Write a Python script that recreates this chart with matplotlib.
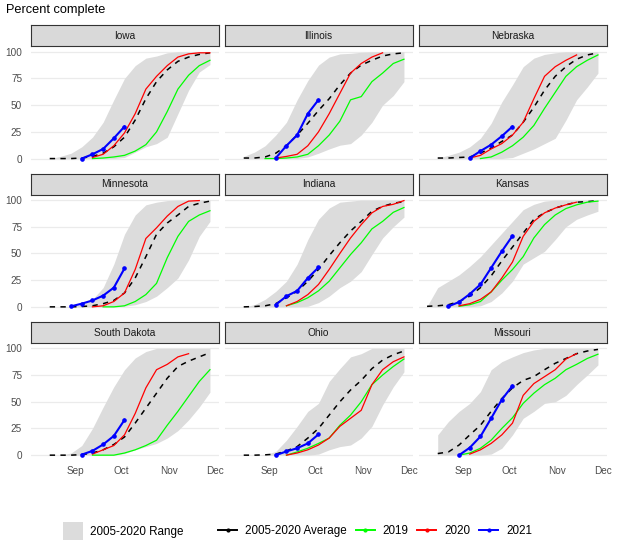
import matplotlib
matplotlib.use("Agg")
import matplotlib.pyplot as plt
import matplotlib.dates as mdates
from matplotlib.lines import Line2D
from matplotlib.patches import Patch
import pandas as pd

plt.rcParams["font.family"] = ["Liberation Sans", "DejaVu Sans"]

# weekly report dates (all years mapped onto the 2021 calendar)
weeks = ["2021-08-08", "2021-08-15", "2021-08-22", "2021-08-29", "2021-09-05",
         "2021-09-12", "2021-09-19", "2021-09-26", "2021-10-03", "2021-10-10",
         "2021-10-17", "2021-10-24", "2021-10-31", "2021-11-07", "2021-11-14",
         "2021-11-21", "2021-11-28"]

states = ["Iowa", "Illinois", "Nebraska",
          "Minnesota", "Indiana", "Kansas",
          "South Dakota", "Ohio", "Missouri"]

N = None

avg = {
    "Iowa":         [N, 0, 0, 0, 0.5, 2, 5, 11, 20, 36, 56, 72, 83, 91, 95, 97.5, 99],
    "Illinois":     [N, 0.5, 0.5, 1.5, 5, 12, 22, 33, 45, 56, 69, 80, 87.5, 92, 96, 98, 99],
    "Nebraska":     [N, 0.5, 0.5, 1, 1.5, 5, 10, 16, 22, 34, 48, 64, 77, 86, 93, 97, 99],
    "Minnesota":    [N, 0, 0, 0, 0.3, 1, 3, 6, 13, 27, 47, 68, 78.5, 86, 94, 97, 99],
    "Indiana":      [N, 0, 0.3, 1, 3, 8.5, 14.5, 24, 35, 48, 60, 71, 80, 89.5, 94, 97, 98.5],
    "Kansas":       [0.5, 1, 2, 5, 10, 18, 29, 43, 56, 69, 82, 88, 92.5, 95.5, 98, 98.5, 99.5],
    "South Dakota": [N, 0, 0, 0, 0.5, 2, 5, 10, 17, 30, 44, 58, 72, 83, 88, 92, 96],
    "Ohio":         [N, 0, 0, 0.3, 1, 4, 8, 16, 25, 37.5, 50, 61, 70, 81, 89, 94, 97.5],
    "Missouri":     [N, 1.5, 3, 9.5, 19, 28, 41, 53, 63, 70, 73.5, 80, 86, 90.5, 95, 97.5, 99],
}

range_lo = {
    "Iowa":         [N, 0, 0, 0, 0, 0, 0, 0, 1, 6, 11, 14, 20, 42, 64, 81, 88],
    "Illinois":     [N, 0, 0, 0, 0, 0, 0, 1.5, 5, 9, 12.5, 14, 22, 34, 50, 59, 72],
    "Nebraska":     [N, 0, 0, 0, 0, 0, 0, 0, 1, 5, 9, 14, 19, 36, 55, 67, 80],
    "Minnesota":    [N, 0, 0, 0, 0, 0, 0, 0, 0.5, 2, 5, 10, 18, 27, 44, 66, 80],
    "Indiana":      [N, 0, 0, 0, 0, 0, 0, 0.5, 4, 10, 18, 24, 33, 49, 64.5, 75, 84],
    "Kansas":       [0, 0, 0, 0, 0, 1, 5, 13, 24, 40, 46, 52, 63, 75, 82, 86, 89.5],
    "South Dakota": [N, 0, 0, 0, 0, 0, 0, 0, 1.5, 5, 8, 11, 16, 23, 33, 45, 59],
    "Ohio":         [N, 0, 0, 0, 0, 0, 0, 0, 1, 5, 8, 9.5, 16, 27, 47, 64, 78],
    "Missouri":     [N, 0, 0, 0, 0, 0, 1, 6.5, 19, 34.5, 41, 48.5, 50, 56, 66, 75, 84.5],
}

range_hi = {
    "Iowa":         [N, 0, 2, 5, 11, 20, 34, 55, 75, 87, 94, 96, 99, 100, 100, 100, 100],
    "Illinois":     [N, 2, 6, 12, 22, 34, 55, 73, 87.5, 95, 98, 98.5, 99.5, 100, 100, 100, 100],
    "Nebraska":     [N, 0.5, 3, 6, 11, 19, 33, 53, 69, 86, 94, 97.5, 99, 100, 100, 100, 100],
    "Minnesota":    [N, 0, 0, 0.5, 2, 7, 18, 40, 68, 86, 95.5, 98, 99.5, 100, 100, 100, 100],
    "Indiana":      [N, 0, 2, 7, 14.5, 24, 40, 63, 82, 92.5, 98, 99, 100, 100, 100, 100, 100],
    "Kansas":       [0.5, 18, 24, 30, 38, 47, 58, 69, 80, 91, 96, 99, 100, 100, 100, 100, 100],
    "South Dakota": [N, 0, 0, 2, 9, 25, 45, 64, 80, 91, 97, 100, 100, 100, 100, 100, 100],
    "Ohio":         [N, 0, 0, 0.5, 3.5, 14, 27, 41, 48.5, 69, 81, 92, 95, 100, 100, 100, 100],
    "Missouri":     [N, 19, 31.5, 41, 48.5, 59.5, 80, 87.5, 92, 96, 98.5, 100, 100, 100, 100, 100, 100],
}

y2019 = {
    "Iowa":         [N, N, N, N, N, 0, 0.5, 1.5, 3, 7, 13, 25, 44, 65, 78, 87, 92],
    "Illinois":     [N, N, N, 0, 0, 0.5, 1.5, 4, 12, 22, 35, 55, 58, 72, 80, 89, 93],
    "Nebraska":     [N, N, N, N, N, 0, 1.5, 6, 12, 20, 31, 47, 62, 77, 86, 92, 97],
    "Minnesota":    [N, N, N, N, N, N, 0, 0, 1, 5, 11.5, 22, 46, 66, 80, 86, 90],
    "Indiana":      [N, N, N, N, N, 1, 4, 8.5, 15, 24, 36.5, 49, 60, 73, 80, 88.5, 93],
    "Kansas":       [N, N, N, 0.5, 2, 5, 14, 25, 35, 47, 64.5, 77, 86, 92, 95.5, 98, 99],
    "South Dakota": [N, N, N, N, N, 0, 0, 0, 2, 5, 9, 14, 28, 41, 55, 69, 80],
    "Ohio":         [N, N, N, N, N, 0, 3, 6.5, 11, 16, 28, 37.5, 50, 66, 75, 83, 90],
    "Missouri":     [N, N, N, 0, 2, 6.5, 14, 25, 35, 48.5, 58, 66, 72, 80, 85, 90.5, 94.5],
}

y2020 = {
    "Iowa":         [N, N, N, N, N, 1, 4, 12, 24, 42, 65, 77, 87, 95, 98, 99, 99],
    "Illinois":     [N, N, N, N, 0.5, 2, 4, 12, 25, 42, 61, 80, 89, 95, 99, N, N],
    "Nebraska":     [N, N, N, N, 0.5, 3, 9, 14, 22, 34, 56, 77, 86, 92, 97, N, N],
    "Minnesota":    [N, N, N, N, N, 0, 1, 5, 13, 35, 64, 74, 85, 94, 99, 99.5, N],
    "Indiana":      [N, N, N, N, N, 1, 5, 11.5, 21, 35, 50, 64.5, 77, 88, 94, 96, 99.5],
    "Kansas":       [N, N, N, 1, 3, 7, 14, 27, 42, 66, 80, 88, 92.5, 95.5, 98, N, N],
    "South Dakota": [N, N, N, N, N, 1, 5, 9, 19, 39, 63, 80, 85, 92, 95, N, N],
    "Ohio":         [N, N, N, N, N, 0, 2, 5, 9.5, 16, 27, 34.5, 42, 66, 80, 87.5, 92],
    "Missouri":     [N, N, N, N, 1, 5, 11, 19, 30, 56, 67, 73.5, 80, 90, 95, N, N],
}

y2021 = {
    "Iowa":         [N, N, N, N, 0, 4, 9, 19, 30],
    "Illinois":     [N, N, N, N, 0.5, 12, 22, 42, 55],
    "Nebraska":     [N, N, N, N, 0.5, 7, 13, 21, 30],
    "Minnesota":    [N, N, N, 0.5, 3, 6, 10.5, 18, 36],
    "Indiana":      [N, N, N, N, 2, 10, 15, 27, 37],
    "Kansas":       [N, N, 0.5, 4.5, 12, 21, 36.5, 52, 66.5],
    "South Dakota": [N, N, N, N, 0.5, 4, 10, 18, 33],
    "Ohio":         [N, N, N, N, 0, 3.5, 6.5, 11, 19.5],
    "Missouri":     [N, N, N, 0, 7, 17.5, 34.5, 52, 65],
}

month_ticks = ["2021-09-01", "2021-10-01", "2021-11-01", "2021-12-01"]
month_labels = ["Sep", "Oct", "Nov", "Dec"]

dates = pd.to_datetime(weeks)


def series(vals):
    return pd.Series(vals, index=dates[:len(vals)], dtype=float).dropna()


W, H = 622, 550
fig = plt.figure(figsize=(W / 100, H / 100), dpi=100)

col_left = [30.5, 224.5, 418.5]
row_top = [46.4, 194.7, 343.0]
pw, ph, strip_h = 188, 117.5, 21

x0 = mdates.date2num(dates[0]) - 5.6
x1 = mdates.date2num(dates[-1]) + 5.6
tick_pos = mdates.date2num(pd.to_datetime(month_ticks))

for i, state in enumerate(states):
    r, c = divmod(i, 3)
    left = col_left[c] / W
    bottom = 1 - (row_top[r] + ph) / H
    ax = fig.add_axes([left, bottom, pw / W, ph / H])

    lo = series(range_lo[state])
    hi = series(range_hi[state])
    ax.fill_between(mdates.date2num(lo.index), lo.values, hi.values,
                    color="#DCDCDC", lw=0, zorder=1)
    a = series(avg[state])
    ax.plot(mdates.date2num(a.index), a.values, color="black", lw=1.1,
            dashes=(3.5, 3.5), zorder=3)
    g = series(y2019[state])
    ax.plot(mdates.date2num(g.index), g.values, color="#00FF00", lw=0.9, zorder=4)
    rr = series(y2020[state])
    ax.plot(mdates.date2num(rr.index), rr.values, color="#FF0000", lw=0.9, zorder=5)
    b = series(y2021[state])
    ax.plot(mdates.date2num(b.index), b.values, color="#0000FF", lw=1.5,
            marker="o", ms=2.3, zorder=6)

    ax.set_xlim(x0, x1)
    ax.set_ylim(-5, 105)
    ax.set_yticks([0, 25, 50, 75, 100])
    ax.set_xticks(tick_pos)
    ax.set_xticklabels(month_labels)
    ax.yaxis.grid(True, color="#EBEBEB", lw=0.9)
    ax.xaxis.grid(False)
    ax.set_axisbelow(True)
    for sp in ax.spines.values():
        sp.set_visible(False)
    ax.tick_params(length=0, labelsize=7.2, labelcolor="#4D4D4D")
    ax.tick_params(axis="y", pad=6)
    ax.tick_params(axis="x", pad=4)
    if c != 0:
        ax.tick_params(axis="y", labelleft=False)
    if r != 2:
        ax.tick_params(axis="x", labelbottom=False)

    sax = fig.add_axes([left, 1 - row_top[r] / H, pw / W, strip_h / H])
    sax.set_facecolor("#D9D9D9")
    sax.set_xticks([])
    sax.set_yticks([])
    for sp in sax.spines.values():
        sp.set_color("#333333")
        sp.set_linewidth(0.8)
    sax.text(0.5, 0.5, state, ha="center", va="center", fontsize=7.3,
             color="#1A1A1A", transform=sax.transAxes)

fig.text(6 / W, 1 - 13.5 / H, "Percent complete", fontsize=9.2, va="baseline")

fig.legend(handles=[Patch(facecolor="#DCDCDC", edgecolor="none")],
           labels=["2005-2020 Range"], loc="center left",
           bbox_to_anchor=(63 / W, 1 - 531 / H), frameon=False,
           fontsize=8.4, handlelength=1.75, handleheight=2.0,
           handletextpad=0.6, borderpad=0, borderaxespad=0)

line_handles = [
    Line2D([], [], color="black", lw=1.4, marker="o", ms=2),
    Line2D([], [], color="#00FF00", lw=1.4, marker="o", ms=2),
    Line2D([], [], color="#FF0000", lw=1.4, marker="o", ms=2),
    Line2D([], [], color="#0000FF", lw=1.4, marker="o", ms=2),
]
fig.legend(handles=line_handles,
           labels=["2005-2020 Average", "2019", "2020", "2021"],
           loc="center left", bbox_to_anchor=(218 / W, 1 - 531 / H),
           ncol=4, frameon=False, fontsize=8.4, handlelength=1.63,
           handletextpad=0.69, columnspacing=0.75, borderpad=0,
           borderaxespad=0)

fig.savefig("out.png", dpi=100)
